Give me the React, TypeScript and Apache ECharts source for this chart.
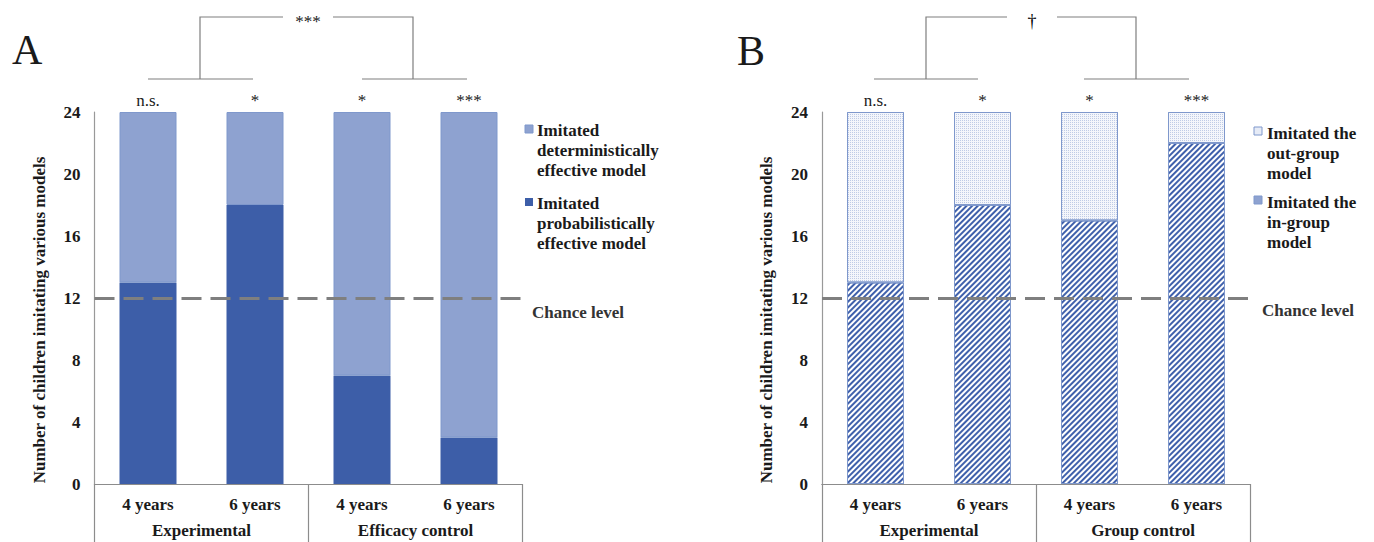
import React, { useEffect, useRef } from "react";
import * as echarts from "echarts";

const ageLabels = ["4 years", "6 years", "4 years", "6 years"];
const groupsA = ["Experimental", "Efficacy control"];
const groupsB = ["Experimental", "Group control"];
const probabilisticA = [13, 18, 7, 3];
const deterministicA = [11, 6, 17, 21];
const inGroupB = [13, 18, 17, 22];
const outGroupB = [11, 6, 7, 2];
const sigA = ["n.s.", "*", "*", "***"];
const sigB = ["n.s.", "*", "*", "***"];
const overallSigA = "***";
const overallSigB = "\u2020";
const chanceLevel = 12;
const yMin = 0;
const yMax = 24;
const yInterval = 4;
const yAxisTitle = "Number of children imitating various models";

const FONT = "'Liberation Serif', 'Times New Roman', serif";
const TXT = "#1a1a1a";
const GRAY = "#7f7f7f";
const LIGHT = "#8ea2d0";
const DARK = "#3d5ea8";
const EDGE = "#7f98cc";

export default function App() {
  const ref = useRef<HTMLDivElement>(null);
  useEffect(() => {
    if (!ref.current) return;
    const chart = echarts.init(ref.current, null, { renderer: "svg" });

    const yAxis = (gridIndex: number) => ({
      type: "value",
      gridIndex,
      min: yMin,
      max: yMax,
      interval: yInterval,
      name: yAxisTitle,
      nameLocation: "middle",
      nameRotate: 90,
      nameGap: 47,
      nameTextStyle: {
        fontFamily: FONT,
        fontWeight: "bold",
        fontSize: 17,
        color: TXT,
        padding: [0, 44, 0, 0],
      },
      axisLine: { show: true, lineStyle: { color: "#999999", width: 1.2 } },
      axisTick: { show: false },
      splitLine: { show: false },
      axisLabel: {
        fontFamily: FONT,
        fontWeight: "bold",
        fontSize: 17,
        color: TXT,
        margin: 14,
      },
    });

    const catAxis = (gridIndex: number) => ({
      type: "category",
      gridIndex,
      data: ageLabels,
      position: "bottom",
      axisLine: { show: true, lineStyle: { color: "#8c8c8c", width: 1.2 } },
      axisTick: { show: false },
      axisLabel: {
        fontFamily: FONT,
        fontWeight: "bold",
        fontSize: 17,
        color: TXT,
        margin: 12,
        interval: 0,
      },
    });

    const groupAxis = (gridIndex: number, data: string[]) => ({
      type: "category",
      gridIndex,
      data,
      position: "bottom",
      axisLine: { show: true, lineStyle: { color: "#8c8c8c", width: 1.2 } },
      axisTick: { show: true, length: 58, lineStyle: { color: "#8c8c8c", width: 1.2 } },
      axisLabel: {
        fontFamily: FONT,
        fontWeight: "bold",
        fontSize: 17,
        color: TXT,
        margin: 38,
        interval: 0,
      },
    });

    const sigLabel = (arr: string[]) => ({
      show: true,
      position: "top",
      distance: 3,
      fontFamily: FONT,
      fontSize: 17,
      color: TXT,
      formatter: (p: any) => arr[p.dataIndex],
    });

    const chanceMark = {
      silent: true,
      symbol: "none",
      label: { show: false },
      lineStyle: { color: GRAY, width: 3, type: [20, 9] },
      data: [{ yAxis: chanceLevel }],
      z: 10,
    };

    const stripeDecal = {
      symbol: "rect",
      symbolSize: 1,
      dashArrayX: [1, 0],
      dashArrayY: [1.5, 1.6],
      rotation: -Math.PI / 4,
      color: "#3f60ab",
    };
    const dotDecal = {
      symbol: "rect",
      symbolSize: 1,
      dashArrayX: [1, 1],
      dashArrayY: [1, 1],
      rotation: 0,
      color: "#bfcbe6",
    };

    const textEl = (text: string, x: number, y: number, opts: any = {}) => ({
      type: "text",
      x,
      y,
      style: {
        text,
        fontFamily: FONT,
        fontSize: 17,
        fill: TXT,
        ...opts,
      },
    });
    const lineEl = (points: number[][]) => ({
      type: "polyline",
      shape: { points },
      style: { stroke: GRAY, lineWidth: 1.2, fill: null },
    });

    chart.setOption({
      animation: false,
      backgroundColor: "#ffffff",
      grid: [
        { left: 94.5, width: 428, top: 112, height: 372 },
        { left: 822, width: 428, top: 112, height: 372 },
      ],
      xAxis: [catAxis(0), groupAxis(0, groupsA), catAxis(1), groupAxis(1, groupsB)],
      yAxis: [yAxis(0), yAxis(1)],
      series: [
        {
          name: "Imitated probabilistically effective model",
          type: "bar",
          stack: "A",
          xAxisIndex: 0,
          yAxisIndex: 0,
          barWidth: 57,
          data: probabilisticA,
          itemStyle: { color: DARK },
        },
        {
          name: "Imitated deterministically effective model",
          type: "bar",
          stack: "A",
          xAxisIndex: 0,
          yAxisIndex: 0,
          barWidth: 57,
          data: deterministicA,
          itemStyle: { color: LIGHT, borderColor: EDGE, borderWidth: 1 },
          label: sigLabel(sigA),
          markLine: chanceMark,
        },
        {
          name: "Imitated the in-group model",
          type: "bar",
          stack: "B",
          xAxisIndex: 2,
          yAxisIndex: 1,
          barWidth: 57,
          data: inGroupB,
          itemStyle: { color: "#ffffff", borderColor: EDGE, borderWidth: 1, decal: stripeDecal },
        },
        {
          name: "Imitated the out-group model",
          type: "bar",
          stack: "B",
          xAxisIndex: 2,
          yAxisIndex: 1,
          barWidth: 57,
          data: outGroupB,
          itemStyle: { color: "#f4f6fb", borderColor: EDGE, borderWidth: 1, decal: dotDecal },
          label: sigLabel(sigB),
          markLine: chanceMark,
        },
      ],
      graphic: [
        textEl("A", 12, 50, { fontSize: 42, textVerticalAlign: "middle" }),
        textEl("B", 737, 51, { fontSize: 42, textVerticalAlign: "middle" }),
        // Panel A brackets
        lineEl([[148, 79], [253, 79]]),
        lineEl([[200, 79], [200, 17], [283, 17]]),
        textEl(overallSigA, 308, 21, { textAlign: "center", textVerticalAlign: "middle" }),
        lineEl([[333, 17], [413, 17], [413, 79]]),
        lineEl([[362, 79], [467, 79]]),
        // Panel B brackets
        lineEl([[874, 79], [978, 79]]),
        lineEl([[926, 79], [926, 17], [1007, 17]]),
        textEl(overallSigB, 1032, 21, { textAlign: "center", textVerticalAlign: "middle", fontSize: 18, fill: "#000000" }),
        lineEl([[1057, 17], [1136, 17], [1136, 79]]),
        lineEl([[1084, 79], [1189, 79]]),
        // Legend A
        { type: "rect", shape: { x: 525, y: 125, width: 8, height: 8 }, style: { fill: LIGHT, stroke: EDGE, lineWidth: 1 } },
        textEl("Imitated\ndeterministically\neffective model", 537, 120, { fontWeight: "bold", lineHeight: 20, textVerticalAlign: "top" }),
        { type: "rect", shape: { x: 525, y: 198, width: 8, height: 8 }, style: { fill: DARK } },
        textEl("Imitated\nprobabilistically\neffective model", 537, 193, { fontWeight: "bold", lineHeight: 20, textVerticalAlign: "top" }),
        textEl("Chance level", 532, 312, { fontWeight: "bold", textVerticalAlign: "middle", fill: "#333" }),
        // Legend B
        { type: "rect", shape: { x: 1254, y: 127, width: 8, height: 8 }, style: { fill: "#e6ebf6", stroke: EDGE, lineWidth: 1 } },
        textEl("Imitated the\nout-group\nmodel", 1267, 123, { fontWeight: "bold", lineHeight: 20, textVerticalAlign: "top" }),
        { type: "rect", shape: { x: 1254, y: 196, width: 8, height: 8 }, style: { fill: "#8ea2d0", stroke: EDGE, lineWidth: 1 } },
        textEl("Imitated the\nin-group\nmodel", 1267, 192, { fontWeight: "bold", lineHeight: 20, textVerticalAlign: "top" }),
        textEl("Chance level", 1262, 310, { fontWeight: "bold", textVerticalAlign: "middle", fill: "#333" }),
      ],
    });
    return () => chart.dispose();
  }, []);
  return (
    <div
      ref={ref}
      style={{ position: "absolute", left: 0, top: 0, width: 1374, height: 542, background: "#fff" }}
    />
  );
}
